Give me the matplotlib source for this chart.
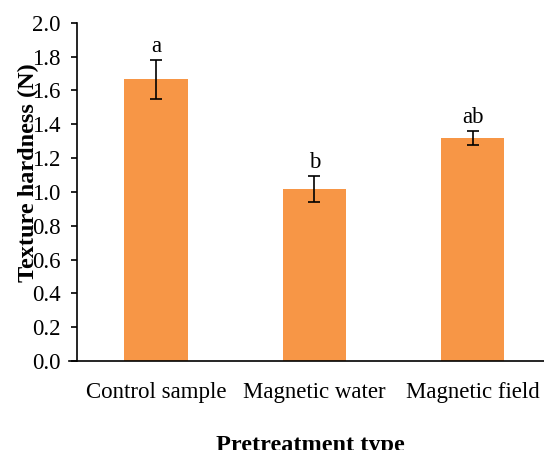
import matplotlib
matplotlib.use('agg')
import matplotlib.pyplot as plt
import numpy as np

categories = ["Control sample", "Magnetic water", "Magnetic field"]
hardness = [1.666, 1.016, 1.319]
errors = [0.116, 0.078, 0.040]
letters = ["a", "b", "ab"]

plt.rcParams['font.family'] = ['Liberation Serif', 'DejaVu Serif']

fig = plt.figure(figsize=(5.44, 4.5), dpi=100)
ax = fig.add_axes([77 / 544, 1 - 361 / 450, 1 - 77 / 544, (361 - 22.7) / 450])

x = np.arange(len(categories))
ax.bar(x, hardness, width=0.4, color="#F79646", zorder=2)
ax.errorbar(x, hardness, yerr=errors, fmt='none', ecolor='black',
            elinewidth=1.2, capsize=4, capthick=1.2, zorder=3)

for xi, h, e, lab in zip(x, hardness, errors, letters):
    ax.annotate(lab, (xi, h + e), xytext=(0, 2), textcoords='offset points',
                ha='center', va='bottom', fontsize=16.5)

ax.set_xlim(-0.5, 2.45)
ax.set_ylim(0, 2.0)
ticks = np.arange(0, 2.01, 0.2)
ax.set_yticks(ticks)
ax.set_yticklabels([f"{v:.1f}" for v in ticks])
ax.set_xticks(x)
ax.set_xticklabels(categories)

ax.spines['top'].set_visible(False)
ax.spines['right'].set_visible(False)
ax.spines['bottom'].set_visible(False)
ax.spines['left'].set_linewidth(1.2)
ax.plot([-0.018, 1], [0, 0], transform=ax.transAxes, color='black',
        linewidth=1.2, clip_on=False, zorder=4)

ax.tick_params(axis='y', direction='out', length=4, width=1.2, pad=8, labelsize=16.5)
ax.tick_params(axis='x', length=0, pad=15, labelsize=16.5)

ax.set_ylabel("Texture hardness (N)", fontsize=17.5, fontweight='bold', va='center')
ax.yaxis.set_label_coords(-0.104, 0.556)
ax.set_xlabel("Pretreatment type", fontsize=17.5, fontweight='bold', va='center')
ax.xaxis.set_label_coords(0.5, -0.25)

fig.savefig("out.png", dpi=100)
